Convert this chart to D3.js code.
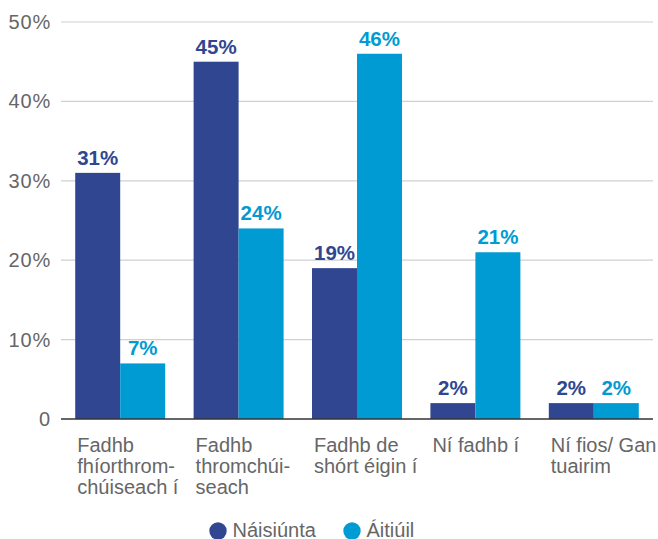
<!DOCTYPE html>
<html>
<head>
<meta charset="utf-8">
<script src="https://cdn.jsdelivr.net/npm/d3@7"></script>
<style>
  html, body { margin: 0; padding: 0; background: #fff; }
  svg { display: block; font-family: "Liberation Sans", Arial, Helvetica, sans-serif; }
</style>
</head>
<body>
<svg id="chart" width="658" height="539"></svg>
<script>
const categories = [
  ["Fadhb", "fhíorthrom-", "chúiseach í"],
  ["Fadhb", "thromchúi-", "seach"],
  ["Fadhb de", "shórt éigin í"],
  ["Ní fadhb í"],
  ["Ní fios/ Gan", "tuairim"]
];
const seriesNames = ["Náisiúnta", "Áitiúil"];
const naisiunta = [31, 45, 19, 2, 2];
const aitiuil = [7, 24, 46, 21, 2];
const yTicks = [0, 10, 20, 30, 40, 50];
const colors = ["#304691", "#009bd2"];

const svg = d3.select("#chart");
const mLeft = 61, mRight = 653, mTop = 22, mBottom = 419;

const x = d3.scaleBand().domain(d3.range(categories.length)).range([mLeft, mRight])
  .paddingInner(0.24).paddingOuter(0.12);
const x1 = d3.scaleBand().domain([0, 1]).range([0, x.bandwidth()]);
const y = d3.scaleLinear().domain([0, 50]).range([mBottom, mTop]);

// gridlines
svg.append("g").selectAll("line").data(yTicks.filter(d => d > 0)).join("line")
  .attr("x1", mLeft).attr("x2", mRight)
  .attr("y1", d => y(d)).attr("y2", d => y(d))
  .attr("stroke", "#d0d0d0").attr("stroke-width", 1.2);

// y tick labels
svg.append("g").selectAll("text").data(yTicks).join("text")
  .attr("x", 51).attr("y", d => y(d)).attr("dy", "0.35em")
  .attr("text-anchor", "end").attr("fill", "#666")
  .attr("font-size", 20).attr("letter-spacing", 0.8)
  .text(d => d === 0 ? "0" : d + "%");

const series = [naisiunta, aitiuil];
series.forEach((vals, si) => {
  const g = svg.append("g");
  g.selectAll("rect").data(vals).join("rect")
    .attr("x", (d, i) => x(i) + x1(si))
    .attr("width", x1.bandwidth())
    .attr("y", d => y(d))
    .attr("height", d => y(0) - y(d))
    .attr("fill", colors[si]);
  g.selectAll("text").data(vals).join("text")
    .attr("x", (d, i) => x(i) + x1(si) + x1.bandwidth() / 2)
    .attr("y", d => y(d) - 8)
    .attr("text-anchor", "middle")
    .attr("font-weight", "bold")
    .attr("font-size", 20.5)
    .attr("fill", colors[si])
    .text(d => d + "%");
});

// baseline axis
svg.append("line").attr("x1", mLeft).attr("x2", mRight)
  .attr("y1", y(0)).attr("y2", y(0))
  .attr("stroke", "#333").attr("stroke-width", 1.6);

// category labels
const cl = svg.append("g").selectAll("text").data(categories).join("text")
  .attr("x", (d, i) => x(i) + 2)
  .attr("y", 452)
  .attr("fill", "#666")
  .attr("font-size", 20);
cl.selectAll("tspan").data(d => d).join("tspan")
  .attr("x", function() { return d3.select(this.parentNode).attr("x"); })
  .attr("dy", (d, i) => i === 0 ? 0 : 20.8)
  .text(d => d);

// legend
const legendX = [218, 352];
const lg = svg.append("g").selectAll("g").data(seriesNames).join("g");
lg.append("circle").attr("cx", (d, i) => legendX[i]).attr("cy", 531).attr("r", 8.7)
  .attr("fill", (d, i) => colors[i]);
lg.append("text").attr("x", (d, i) => legendX[i] + 14.5).attr("y", 536.5)
  .attr("fill", "#666").attr("font-size", 20)
  .text(d => d);
</script>
</body>
</html>
